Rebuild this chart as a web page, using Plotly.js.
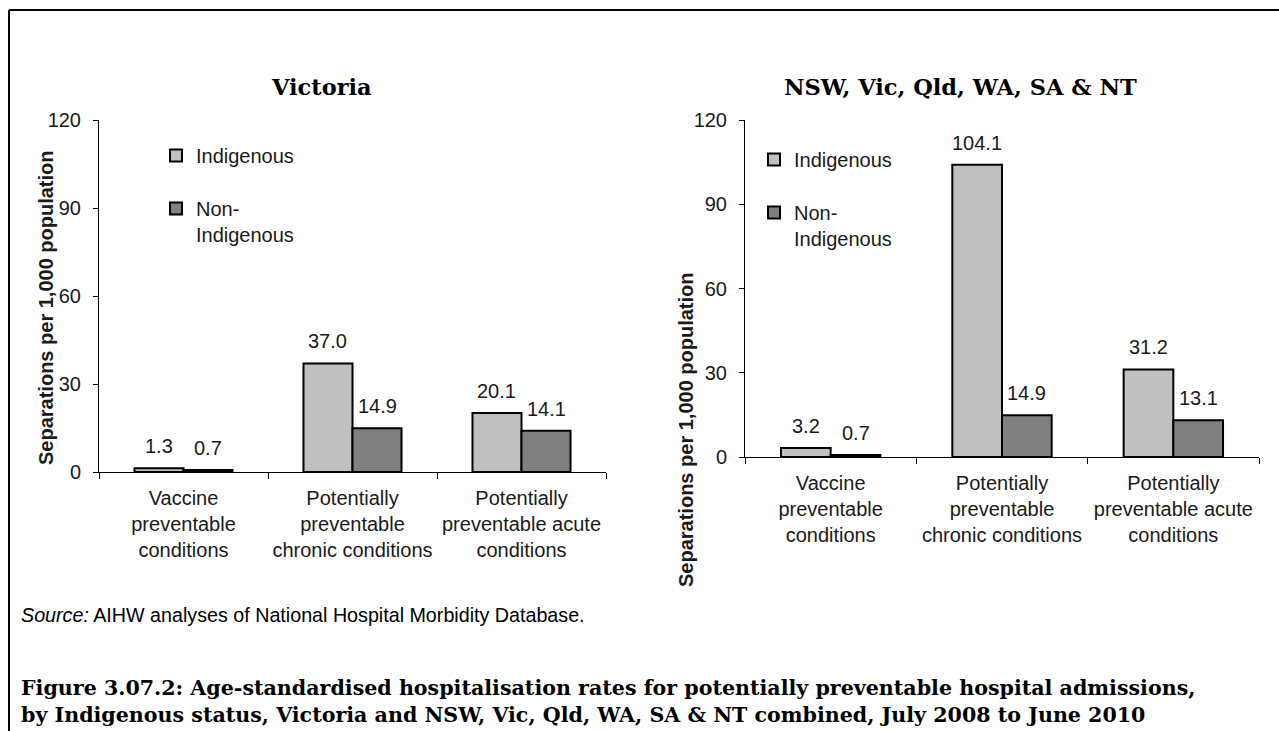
<!DOCTYPE html>
<html>
<head>
<meta charset="utf-8">
<script src="https://cdn.plot.ly/plotly-3.0.1.min.js"></script>
<style>html,body{margin:0;padding:0;background:#fff;}#chart{width:1279px;height:731px;}</style>
</head>
<body>
<div id="chart"></div>
<script>
var categories = ["Vaccine<br>preventable<br>conditions", "Potentially<br>preventable<br>chronic conditions", "Potentially<br>preventable acute<br>conditions"];
var seriesNames = ["Indigenous", "Non-<br>Indigenous"];
var vicIndigenous = [1.3, 37.0, 20.1];
var vicNonIndigenous = [0.7, 14.9, 14.1];
var allIndigenous = [3.2, 104.1, 31.2];
var allNonIndigenous = [0.7, 14.9, 13.1];
var yTicks = [0, 30, 60, 90, 120];
var leftTitle = "Victoria";
var rightTitle = "NSW, Vic, Qld, WA, SA &amp; NT";
var yTitle = "Separations per 1,000 population";
var sourceText = "<i>Source:</i> AIHW analyses of National Hospital Morbidity Database.";
var captionText = "Figure 3.07.2: Age-standardised hospitalisation rates for potentially preventable hospital admissions,<br>by Indigenous status, Victoria and NSW, Vic, Qld, WA, SA &amp; NT combined, July 2008 to June 2010";

var W = 1279, H = 731;
var sans = "Liberation Sans, Arial, sans-serif";
var serif = "DejaVu Serif, Liberation Serif, serif";
var txt = "#1a1a1a";
var colIndig = "#c0c0c0", colNon = "#808080";
var bargap = 0.42;
var fs = 20;

function px(x){return x/W;}
function py(y){return 1 - y/H;}

var L = {x0:99, x1:606, y0:120, y1:472};
var R = {x0:745, x1:1259, y0:120, y1:457};

function bar(name, vals, color, xa, ya, legend, group){
  return {type:'bar', name:name, x:categories, y:vals, xaxis:xa, yaxis:ya,
    marker:{color:color, line:{color:'#000', width:2}},
    legend:legend, legendgroup:group, hoverinfo:'none'};
}

var data = [
  bar(seriesNames[0], vicIndigenous, colIndig, 'x', 'y', 'legend', 'a1'),
  bar(seriesNames[1], vicNonIndigenous, colNon, 'x', 'y', 'legend', 'a2'),
  bar(seriesNames[0], allIndigenous, colIndig, 'x2', 'y2', 'legend2', 'b1'),
  bar(seriesNames[1], allNonIndigenous, colNon, 'x2', 'y2', 'legend2', 'b2')
];

function xaxisDef(box){
  return {domain:[px(box.x0), px(box.x1)], type:'category', tickangle:0,
    showline:true, linecolor:'#000', linewidth:1, ticks:'outside', tickson:'boundaries',
    ticklen:6, tickcolor:'#000', ticklabelstandoff:8, tickfont:{family:sans, size:fs, color:txt},
    showgrid:false, zeroline:false, fixedrange:true};
}
function yaxisDef(box){
  return {domain:[py(box.y1), py(box.y0)], range:[0,120], tickvals:yTicks,
    showline:true, linecolor:'#000', linewidth:1, ticks:'outside', ticklen:5, tickcolor:'#000',
    ticklabelstandoff:8, tickfont:{family:sans, size:fs, color:txt}, showgrid:false, zeroline:false, fixedrange:true};
}

var xa = xaxisDef(L); xa.anchor = 'y';
var ya = yaxisDef(L); ya.anchor = 'x';
var xa2 = xaxisDef(R); xa2.anchor = 'y2';
var ya2 = yaxisDef(R); ya2.anchor = 'x2';

var annotations = [];
function addLabels(vals, xref, yref, sign, box){
  var catPx = (box.x1 - box.x0)/categories.length;
  var shift = catPx*(1-bargap)/4;
  for (var i=0;i<vals.length;i++){
    annotations.push({xref:xref, yref:yref, x:categories[i], y:vals[i], xshift:sign*shift, yshift:9,
      yanchor:'bottom', xanchor:'center', showarrow:false, text:vals[i].toFixed(1),
      font:{family:sans, size:fs, color:txt}});
  }
}
addLabels(vicIndigenous, 'x', 'y', -1, L);
addLabels(vicNonIndigenous, 'x', 'y', 1, L);
addLabels(allIndigenous, 'x2', 'y2', -1, R);
addLabels(allNonIndigenous, 'x2', 'y2', 1, R);

annotations.push({xref:'paper', yref:'paper', x:px(321), y:py(87), text:'<b>'+leftTitle+'</b>', showarrow:false,
  font:{family:serif, size:22.5, color:'#000'}, xanchor:'center', yanchor:'middle'});
annotations.push({xref:'paper', yref:'paper', x:px(960), y:py(87), text:'<b>'+rightTitle+'</b>', showarrow:false,
  font:{family:serif, size:22.5, color:'#000'}, xanchor:'center', yanchor:'middle'});
annotations.push({xref:'paper', yref:'paper', x:px(46), y:py(308), text:'<b>'+yTitle+'</b>', textangle:-90, showarrow:false,
  font:{family:sans, size:fs, color:txt}, xanchor:'center', yanchor:'middle'});
annotations.push({xref:'paper', yref:'paper', x:px(686), y:py(430), text:'<b>'+yTitle+'</b>', textangle:-90, showarrow:false,
  font:{family:sans, size:fs, color:txt}, xanchor:'center', yanchor:'middle'});
annotations.push({xref:'paper', yref:'paper', x:px(19), y:py(615), text:sourceText, showarrow:false,
  font:{family:sans, size:19.7, color:'#000'}, xanchor:'left', yanchor:'middle'});
annotations.push({xref:'paper', yref:'paper', x:px(19), y:py(701), text:'<b>'+captionText+'</b>', showarrow:false, align:'left',
  font:{family:serif, size:20.6, color:'#000'}, xanchor:'left', yanchor:'middle'});

var legendBase = {xanchor:'left', yanchor:'top', bgcolor:'rgba(0,0,0,0)', borderwidth:0,
  font:{family:sans, size:fs, color:txt}, traceorder:'grouped', tracegroupgap:24, valign:'top'};
var leg1 = Object.assign({}, legendBase, {x:px(156), y:py(136)});
var leg2 = Object.assign({}, legendBase, {x:px(754), y:py(140)});

var layout = {
  width:W, height:H, margin:{l:0,r:0,t:0,b:0}, paper_bgcolor:'#fff', plot_bgcolor:'rgba(0,0,0,0)',
  showlegend:true, bargap:bargap, bargroupgap:0, barmode:'group',
  xaxis:xa, yaxis:ya, xaxis2:xa2, yaxis2:ya2,
  legend:leg1, legend2:leg2,
  annotations:annotations,
  shapes:[
    {type:'line', xref:'paper', yref:'paper', x0:px(9), x1:1, y0:py(10), y1:py(10), line:{color:'#000', width:2}},
    {type:'line', xref:'paper', yref:'paper', x0:px(9), x1:px(9), y0:py(10), y1:0, line:{color:'#000', width:2}}
  ]
};

Plotly.newPlot('chart', data, layout, {displayModeBar:false, staticPlot:true});
</script>
</body>
</html>
